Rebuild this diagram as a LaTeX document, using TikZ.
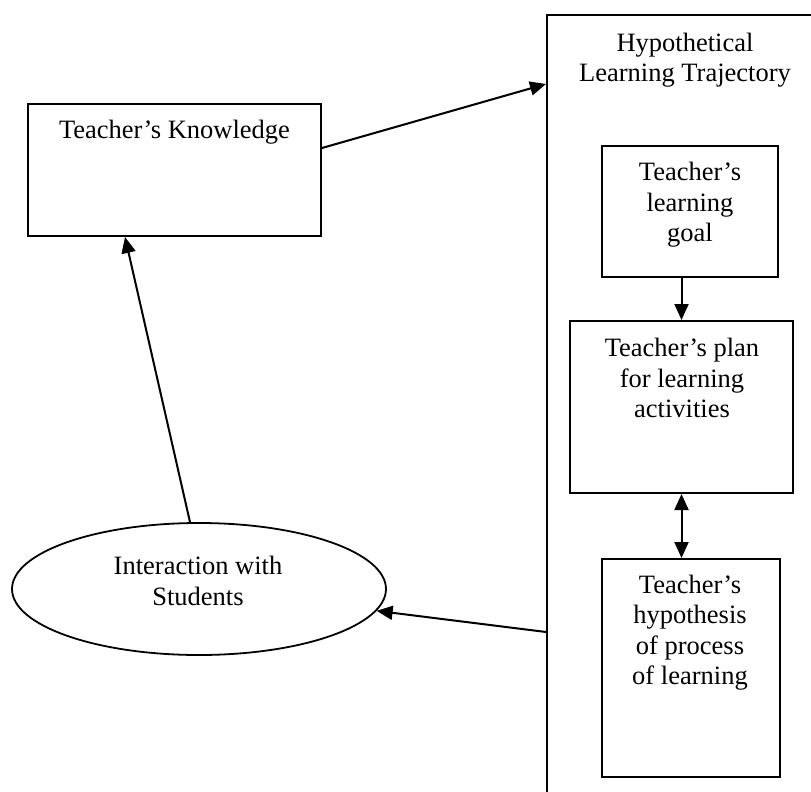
\documentclass[tikz,border=0pt]{standalone}
\usepackage{fontspec}
\setmainfont{Liberation Serif}
\usetikzlibrary{arrows.meta,shapes.geometric,calc}
\tikzset{
  boxshape/.style={draw, line width=2pt, rectangle, inner sep=0pt},
  ellshape/.style={draw, line width=1.8pt, ellipse, inner sep=0pt},
  lbl/.style={font=\fontsize{26.5}{30.5}\selectfont, align=center, inner sep=0pt},
  arr/.style={line width=2pt, -{Triangle[length=16pt,width=14pt]}},
  dblarr/.style={line width=2pt, {Triangle[length=16pt,width=14pt]}-{Triangle[length=16pt,width=14pt]}}
}
\begin{document}
\begin{tikzpicture}[x=1pt,y=-1pt]
\clip (0,0) rectangle (811,792);
\fill[white] (0,0) rectangle (811,792);
% outer box (extends beyond the picture on the right and bottom)
\node[boxshape, minimum width=283pt, minimum height=795pt] (hlt) at (688.5,412.5) {};
\node[lbl] (hlttxt) at (685,60) {Hypothetical\\Learning Trajectory};
% teacher's knowledge
\node[boxshape, minimum width=293pt, minimum height=132pt] (k) at (174.5,170) {};
\node[lbl] (ktxt) at (174.5,132) {Teacher’s Knowledge};
% goal
\node[boxshape, minimum width=176pt, minimum height=131pt] (goal) at (690,211.5) {};
\node[lbl] (goaltxt) at (690,205) {Teacher’s\\learning\\goal};
% plan
\node[boxshape, minimum width=223pt, minimum height=172pt] (plan) at (681.5,407) {};
\node[lbl] (plantxt) at (682,378) {Teacher’s plan\\for learning\\activities};
% hypothesis
\node[boxshape, minimum width=178pt, minimum height=218pt] (hyp) at (691,668) {};
\node[lbl] (hyptxt) at (690,632.5) {Teacher’s\\hypothesis\\of process\\of learning};
% ellipse
\node[ellshape, minimum width=374pt, minimum height=132pt] (ell) at (199,589) {};
\node[lbl] (elltxt) at (198,581) {Interaction with\\Students};
% connectors
\draw[arr] ($(k.east)+(0,-22)$) -- ($(hlt.west)+(0,-328.5)$);
\draw[arr] ($(ell.north)+(-9,0)$) -- ($(k.south)+(-49.5,0)$);
\draw[arr] ($(hlt.west)+(0,219.5)$) -- (ell.-7);
\draw[arr] (goal.south -| plan.north) -- (plan.north);
\draw[dblarr] (plan.south) -- (plan.south |- hyp.north);
\end{tikzpicture}
\end{document}
